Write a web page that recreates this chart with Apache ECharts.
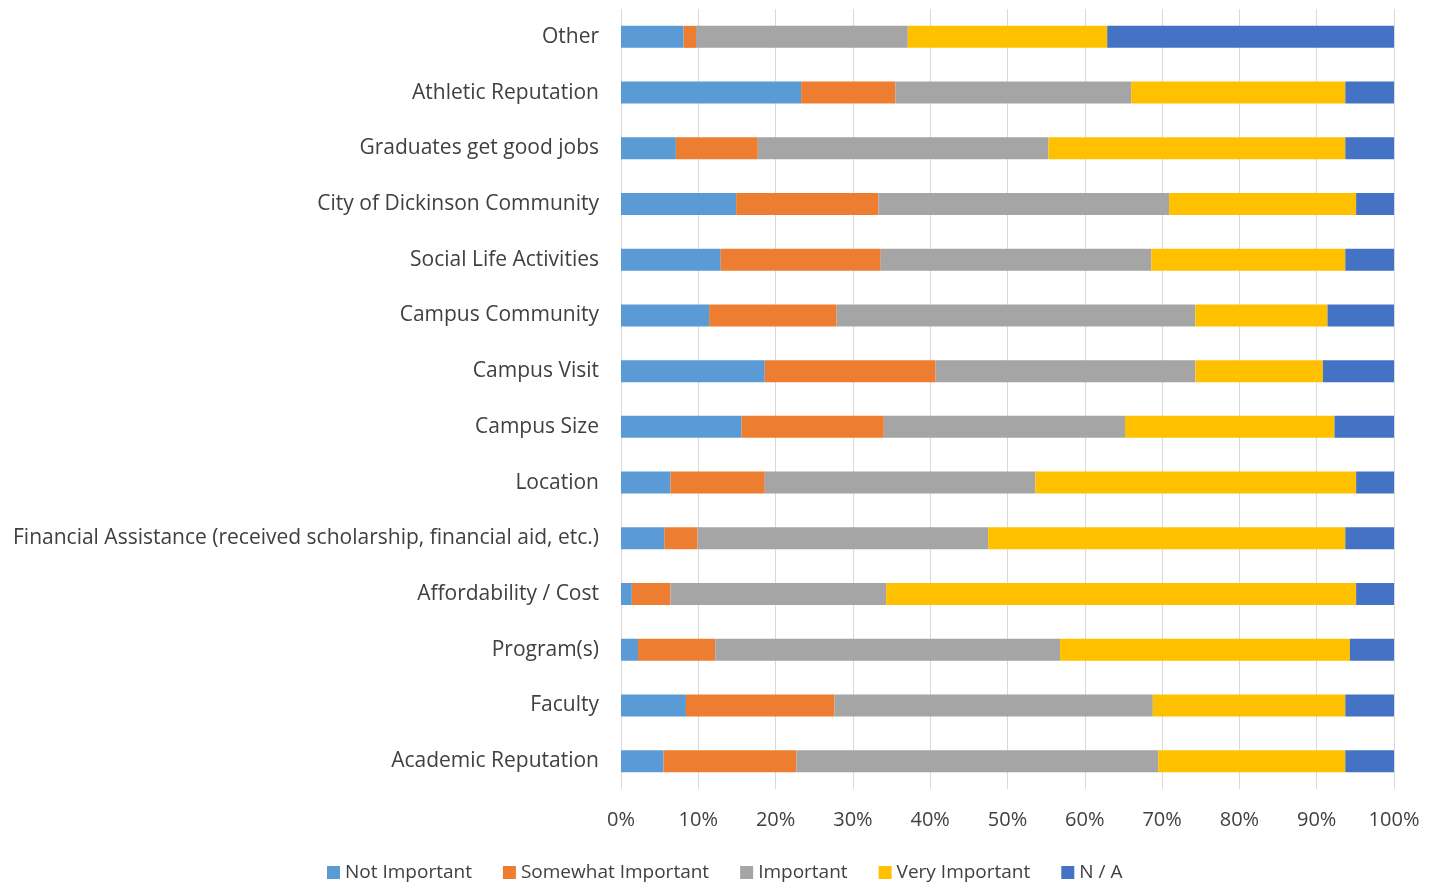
<!DOCTYPE html>
<html>
<head>
<meta charset="utf-8">
<script src="https://cdn.jsdelivr.net/npm/echarts@6/dist/echarts.min.js"></script>
<style>
  html, body { margin: 0; padding: 0; background: #fff; }
  #chart { width: 1441px; height: 885px; }
</style>
</head>
<body>
<div id="chart"></div>
<script>
// categories, bottom to top
var categories = [
  "Academic Reputation", "Faculty", "Program(s)", "Affordability / Cost",
  "Financial Assistance (received scholarship, financial aid, etc.)",
  "Location", "Campus Size", "Campus Visit", "Campus Community",
  "Social Life Activities", "City of Dickinson Community",
  "Graduates get good jobs", "Athletic Reputation", "Other"
];

var notImportant      = [5.5, 8.4, 2.2, 1.4, 5.6, 6.4, 15.6, 18.6, 11.4, 12.9, 14.9, 7.1, 23.3, 8.1];
var somewhatImportant = [17.2, 19.2, 10.0, 5.0, 4.3, 12.2, 18.4, 22.1, 16.5, 20.7, 18.4, 10.6, 12.2, 1.6];
var important         = [46.8, 41.2, 44.6, 27.9, 37.6, 35.0, 31.2, 33.6, 46.4, 35.0, 37.6, 37.6, 30.5, 27.4];
var veryImportant     = [24.2, 24.9, 37.5, 60.8, 46.2, 41.5, 27.1, 16.5, 17.1, 25.1, 24.2, 38.4, 27.7, 25.8];
var notApplicable     = [6.3, 6.3, 5.7, 4.9, 6.3, 4.9, 7.7, 9.2, 8.6, 6.3, 4.9, 6.3, 6.3, 37.1];

var seriesNames = ["Not Important", "Somewhat Important", "Important", "Very Important", "N / A"];
var seriesData = [notImportant, somewhatImportant, important, veryImportant, notApplicable];
var colors = ["#5B9BD5", "#ED7D31", "#A5A5A5", "#FFC000", "#4472C4"];

var font = "'Open Sans', 'Noto Sans', sans-serif";
var chart = echarts.init(document.getElementById("chart"));

var option = {
  animation: false,
  color: colors,
  textStyle: { fontFamily: font },
  grid: { left: 621, right: 47, top: 9, bottom: 96 },
  legend: {
    data: seriesNames,
    top: 858,
    left: 322,
    itemWidth: 13,
    itemHeight: 13,
    itemGap: 31,
    icon: "rect",
    textStyle: { fontSize: 19, color: "#404040", fontFamily: font }
  },
  xAxis: {
    type: "value",
    min: 0,
    max: 100,
    interval: 10,
    axisLine: { show: false },
    axisTick: { show: false },
    splitLine: { lineStyle: { color: "#D9D9D9", width: 1 } },
    axisLabel: {
      formatter: "{value}%",
      fontSize: 20,
      color: "#404040",
      margin: 21
    }
  },
  yAxis: {
    type: "category",
    data: categories,
    axisLine: { show: false },
    axisTick: { show: false },
    axisLabel: { fontSize: 21, color: "#404040", margin: 22 }
  },
  series: seriesNames.map(function (name, i) {
    return {
      name: name,
      type: "bar",
      stack: "total",
      barWidth: 22,
      data: seriesData[i]
    };
  })
};

chart.setOption(option);
</script>
</body>
</html>
